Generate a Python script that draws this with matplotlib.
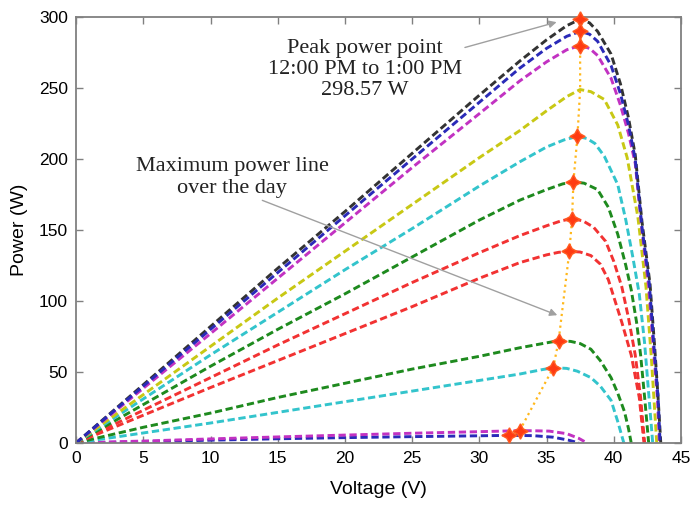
import matplotlib
matplotlib.use("Agg")
import matplotlib.pyplot as plt

# P-V curves (voltage in V, power in W)
v_black = [0, 5, 10, 15, 20, 25, 30, 33, 35, 36.5, 37.5, 38.2, 38.8, 39.8, 40.5, 41.1, 41.6, 42.1, 42.7, 43.05, 43.3, 43.5]
p_black = [0, 41, 82, 123, 163, 204, 245, 269, 284, 294, 298.57, 296, 290, 274, 253, 229, 203, 156, 112, 67, 32, 0]

v_blue = [0, 5, 10, 15, 20, 25, 30, 33, 35, 36.5, 37.5, 38.2, 38.8, 39.8, 40.5, 41.1, 41.6, 42.1, 42.65, 43.0, 43.3, 43.45]
p_blue = [0, 40, 80, 120, 160, 200, 240, 264, 278, 286.5, 290, 288, 283, 266, 246, 224, 200, 152, 112, 67, 32, 0]

v_magenta = [0, 5, 10, 15, 20, 25, 30, 33, 35, 36.5, 37.5, 38.2, 38.8, 39.8, 40.5, 41.1, 41.6, 42.1, 42.6, 42.95, 43.25, 43.4]
p_magenta = [0, 38.5, 77, 116, 155, 194, 232, 255, 268.5, 277, 280, 278, 273, 257, 238, 218, 197, 150, 110, 67, 32, 0]

v_yellow = [0, 5, 10, 15, 20, 25, 30, 33, 35, 36.5, 37.5, 38.3, 39.3, 40.3, 41.0, 41.8, 42.4, 42.8, 43.2]
p_yellow = [0, 34, 68, 102, 135, 168, 201, 220, 234, 244, 249, 247.5, 242, 224, 201, 159, 110, 60, 0]

v_cyan1 = [0, 5, 10, 15, 20, 25, 30, 33, 35, 36.3, 37.3, 38.0, 38.6, 39.3, 40.3, 40.9, 41.4, 41.9, 42.3, 42.6, 42.9]
p_cyan1 = [0, 31, 62, 92, 122, 151, 181, 198, 208.5, 213.5, 216, 214.5, 211, 202, 182, 157, 132, 105, 70, 35, 0]

v_green1 = [0, 5, 10, 15, 20, 25, 30, 33, 35, 36.2, 37.0, 37.8, 38.8, 39.6, 40.3, 40.9, 41.3, 41.7, 42.0, 42.3, 42.6]
p_green1 = [0, 27, 54, 80, 105, 131, 157, 171, 178.5, 182.5, 184, 183, 178.5, 166, 147, 125, 108, 85, 62, 32, 0]

v_red1 = [0, 5, 10, 15, 20, 25, 30, 33, 35, 36.1, 36.9, 37.7, 38.5, 39.4, 40.0, 40.6, 41.1, 41.6, 42.0, 42.3]
p_red1 = [0, 23, 46, 69, 91, 113, 134, 146, 153, 156.5, 158, 156.5, 152, 142, 128, 110, 88, 62, 32, 0]

v_red2 = [0, 5, 10, 15, 20, 25, 30, 33, 35, 35.9, 36.7, 37.5, 38.3, 39.0, 39.6, 40.0, 40.6, 41.3, 41.9, 42.25]
p_red2 = [0, 19.5, 39, 58, 77, 96, 116, 127, 132.5, 134.3, 135, 134.5, 132, 126, 115, 103, 85, 62, 32, 0]

v_green2 = [0, 5, 10, 15, 20, 25, 30, 33, 35, 35.9, 36.8, 37.5, 38.3, 39.0, 39.8, 40.3, 40.8, 41.1, 41.3]
p_green2 = [0, 11, 21, 32, 42, 52, 61, 67, 70.5, 72, 71.5, 70, 66, 58, 46, 35, 22, 10, 0]

v_cyan2 = [0, 5, 10, 15, 20, 25, 30, 33, 34.6, 35.5, 36.5, 37.3, 38.3, 39.0, 39.8, 40.3, 40.6, 40.75]
p_cyan2 = [0, 7, 14, 21.5, 29, 36.5, 44, 48.5, 51.5, 53, 52.5, 50.5, 46, 40, 30, 15, 5, 0]

v_magenta2 = [0, 5, 10, 15, 20, 25, 30, 33, 34, 35.2, 36.5, 37.4, 38.0]
p_magenta2 = [0, 1.3, 2.8, 4.2, 5.5, 6.8, 7.9, 8.6, 8.55, 8.3, 6.5, 3.2, 0]

v_blue2 = [0, 5, 10, 15, 20, 25, 30, 32.2, 34, 35.5, 36.6, 37.4]
p_blue2 = [0, 0.8, 1.9, 2.9, 3.7, 4.4, 5.0, 5.3, 5.1, 4.0, 2.0, 0]

# (voltage, power, colour, has peak marker)
curves = [
    (v_blue2, p_blue2, '#2a2ab8', True),
    (v_magenta2, p_magenta2, '#c232c2', True),
    (v_cyan2, p_cyan2, '#33c4cc', True),
    (v_green2, p_green2, '#1e8a1e', True),
    (v_red2, p_red2, '#f23232', True),
    (v_red1, p_red1, '#f23232', True),
    (v_green1, p_green1, '#1e8a1e', True),
    (v_cyan1, p_cyan1, '#33c4cc', True),
    (v_yellow, p_yellow, '#c8c814', False),
    (v_magenta, p_magenta, '#c232c2', True),
    (v_black, p_black, '#333333', True),
    (v_blue, p_blue, '#2a2ab8', True),
]

fig = plt.figure(figsize=(6.92, 5.05), dpi=100)
ax = fig.add_axes([0.110, 0.123, 0.874, 0.843])

peak_v, peak_p, mark_v, mark_p = [], [], [], []
for v, p, color, marked in curves:
    ax.plot(v, p, color=color, lw=2.1, dashes=(2.5, 1.25))
    i = p.index(max(p))
    peak_v.append(v[i])
    peak_p.append(p[i])
    if marked:
        mark_v.append(v[i])
        mark_p.append(p[i])

# maximum power line over the day
ax.plot(peak_v, peak_p, color='#ffb81c', lw=1.6, ls=':', zorder=5)
ax.plot(mark_v, mark_p, ls='none', marker=(4, 1, 0), ms=11, color='#ff3a12',
        mec='#ff5a20', zorder=6, clip_on=False)

serif = 'Liberation Serif'
ax.annotate('Peak power point\n12:00 PM to 1:00 PM\n298.57 W', xy=(35.75, 296.5), xytext=(21.5, 263),
            ha='center', va='center', fontsize=16, family=serif, color='#222222', linespacing=1.15,
            arrowprops=dict(arrowstyle='-|>', color='#a0a0a0', lw=1.0, mutation_scale=11,
                            shrinkA=0, shrinkB=0, relpos=(1.0, 0.85)))
ax.annotate('Maximum power line\nover the day', xy=(35.8, 90), xytext=(11.6, 187),
            ha='center', va='center', fontsize=16, family=serif, color='#222222', linespacing=1.15,
            arrowprops=dict(arrowstyle='-|>', color='#a0a0a0', lw=1.0, mutation_scale=11,
                            shrinkA=0, shrinkB=0, relpos=(0.62, 0.0)))

ax.set_xlim(0, 45)
ax.set_ylim(0, 300)
ax.set_xticks(range(0, 46, 5))
ax.set_yticks(range(0, 301, 50))
ax.tick_params(direction='in', length=5, width=1, color='#808080', top=True, right=True,
               labelsize=12.5, pad=6)
for lab in ax.get_xticklabels() + ax.get_yticklabels():
    lab.set_family('Liberation Sans')
for s in ax.spines.values():
    s.set_color('#808080')
    s.set_linewidth(1.3)

ax.set_xlabel('Voltage (V)', fontsize=14, family='Liberation Sans', labelpad=11)
ax.set_ylabel('Power (W)', fontsize=14, family='Liberation Sans', labelpad=8)

fig.savefig('out.png', dpi=100)
